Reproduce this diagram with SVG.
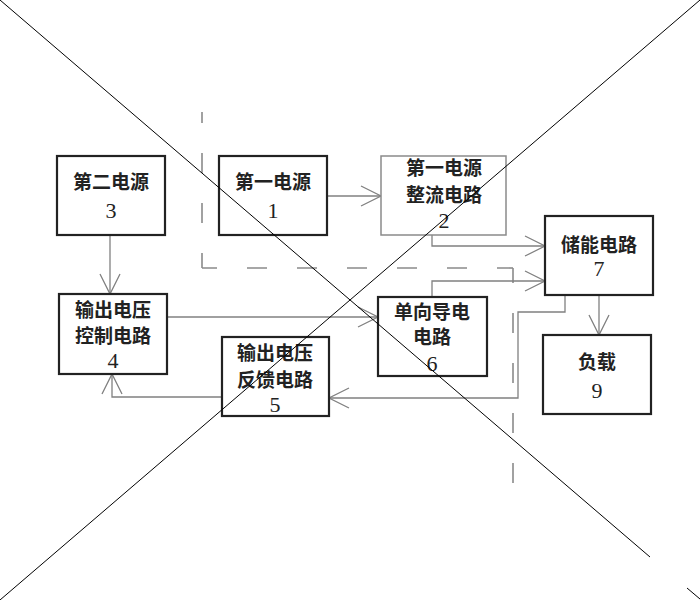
<svg xmlns="http://www.w3.org/2000/svg" width="700" height="600" viewBox="0 0 700 600">
<defs>
<marker id="arr" markerUnits="userSpaceOnUse" markerWidth="24" markerHeight="24" refX="21" refY="11" orient="auto">
<path d="M1,1 L21,11 L1,21" fill="none" stroke="#808080" stroke-width="1.3"/>
</marker>
<style>
.box{fill:#fff;stroke:#222;stroke-width:2.2}
.box2{fill:#fff;stroke:#8a8a8a;stroke-width:1.5}
.t{font-family:"Liberation Serif","Noto Sans CJK SC",serif;font-size:19px;fill:#222;text-anchor:middle;dominant-baseline:central;font-weight:bold}
.n{font-family:"Liberation Serif","Noto Sans CJK SC",serif;font-size:22px;fill:#222;text-anchor:middle;dominant-baseline:central}
.c{fill:none;stroke:#808080;stroke-width:1.3}
.d{fill:none;stroke:#8a8a8a;stroke-width:1.6;stroke-dasharray:20 30}
.x{stroke:#000;stroke-width:1}
</style>
</defs>
<rect width="700" height="600" fill="#fff"/>
<g id="boundary">
<line class="d" x1="202" y1="268" x2="202" y2="112" stroke-dashoffset="5"/>
<line class="d" x1="202" y1="268" x2="513" y2="268" stroke-dashoffset="5"/>
<line class="d" x1="513" y1="268" x2="513" y2="484" stroke-dashoffset="5"/>
</g>
<g id="connectors">
<path class="c" d="M327,196 H381" marker-end="url(#arr)"/>
<path class="c" d="M432,235 V246 H545" marker-end="url(#arr)"/>
<path class="c" d="M432,297 V281 H545" marker-end="url(#arr)"/>
<path class="c" d="M599,295 V335" marker-end="url(#arr)"/>
<path class="c" d="M110,235 V294" marker-end="url(#arr)"/>
<path class="c" d="M167,317 H378" marker-end="url(#arr)"/>
<path class="c" d="M565,295 V312 H518 V398 H329" marker-end="url(#arr)"/>
<path class="c" d="M222,397 H112 V374" marker-end="url(#arr)"/>
</g>
<g id="n3">
<rect class="box" x="57" y="156" width="108" height="79"/>
<text class="t" x="111" y="182">第二电源</text>
<text class="n" x="111" y="210">3</text>
</g>
<g id="n1">
<rect class="box" x="219" y="156" width="108" height="79"/>
<text class="t" x="273" y="182">第一电源</text>
<text class="n" x="273" y="210">1</text>
</g>
<g id="n2">
<rect class="box2" x="381" y="156" width="125" height="79"/>
<text class="t" x="444" y="168">第一电源</text>
<text class="t" x="444" y="195">整流电路</text>
<text class="n" x="444" y="220">2</text>
</g>
<g id="n7">
<rect class="box" x="545" y="216" width="108" height="79"/>
<text class="t" x="599" y="245">储能电路</text>
<text class="n" x="599" y="268">7</text>
</g>
<g id="n4">
<rect class="box" x="59" y="294" width="108" height="80"/>
<text class="t" x="113" y="310">输出电压</text>
<text class="t" x="113" y="336">控制电路</text>
<text class="n" x="113" y="360">4</text>
</g>
<g id="n6">
<rect class="box" x="378" y="297" width="109" height="79"/>
<text class="t" x="432" y="312">单向导电</text>
<text class="t" x="432" y="337">电路</text>
<text class="n" x="432" y="363">6</text>
</g>
<g id="n5">
<rect class="box" x="222" y="337" width="107" height="79"/>
<text class="t" x="275" y="353">输出电压</text>
<text class="t" x="275" y="380">反馈电路</text>
<text class="n" x="275" y="404">5</text>
</g>
<g id="n9">
<rect class="box" x="543" y="335" width="108" height="79"/>
<text class="t" x="597" y="362">负载</text>
<text class="n" x="597" y="390">9</text>
</g>
<g id="cross">
<line class="x" x1="0" y1="0" x2="650" y2="557"/>
<line class="x" x1="687" y1="588" x2="700" y2="599"/>
<line class="x" x1="700" y1="0" x2="0" y2="600"/>
</g>
</svg>
